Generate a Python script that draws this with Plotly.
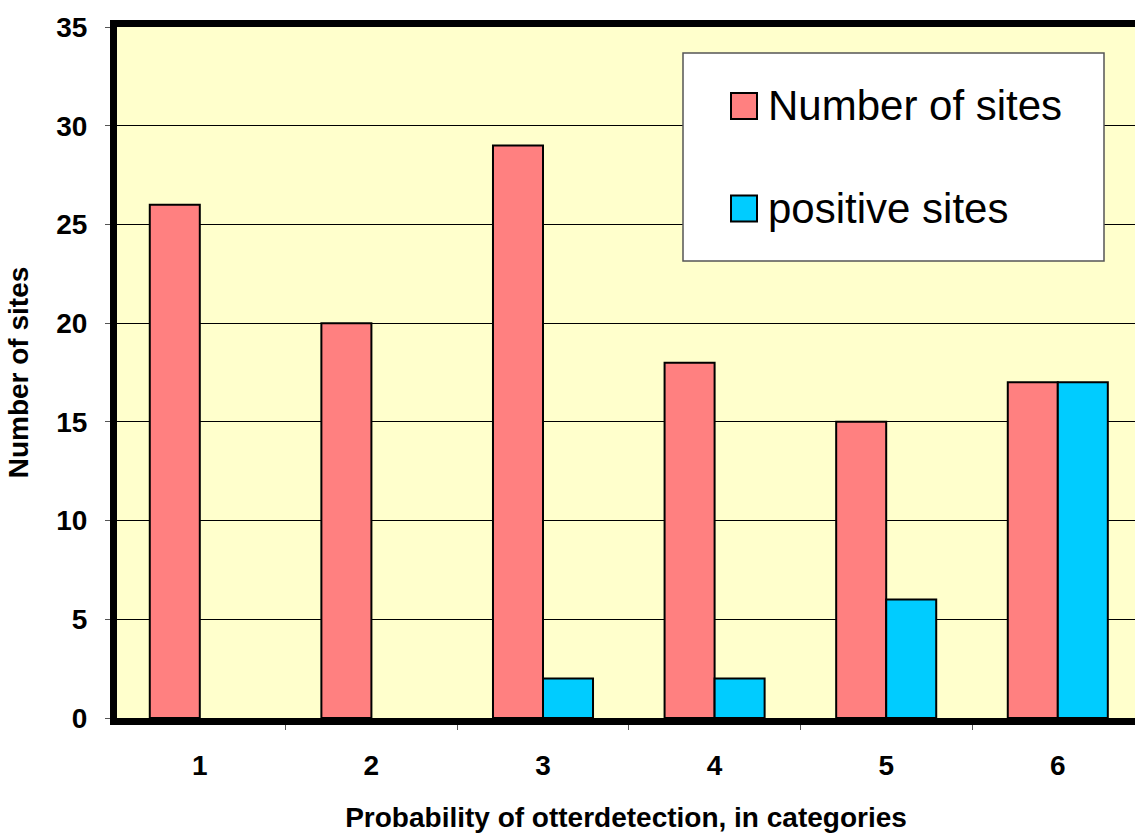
import plotly.graph_objects as go

categories = ["1", "2", "3", "4", "5", "6"]
number_of_sites = [26, 20, 29, 18, 15, 17]
positive_sites = [0, 0, 2, 2, 6, 17]
y_ticks = [0, 5, 10, 15, 20, 25, 30, 35]
series_names = ["Number of sites", "positive sites"]
series_colors = ["#FF8080", "#00CCFF"]

FONT = "Arial, Liberation Sans, sans-serif"
W, H = 1135, 834
L, R, T, B = 117, 0, 27, 116
PW, PH = W - L - R, H - T - B


def px(x):
    return (x - L) / PW


def py(y):
    return (H - B - y) / PH


fig = go.Figure()
for name, vals, col in zip(series_names, [number_of_sites, positive_sites], series_colors):
    fig.add_trace(go.Bar(
        x=categories, y=vals, name=name,
        marker=dict(color=col, line=dict(color="black",
                                         width=[0 if v == 0 else 2 for v in vals])),
        showlegend=False,
    ))

# Legend drawn with large swatches, as in the original
shapes = [dict(type="rect", xref="paper", yref="paper",
               x0=px(683), x1=px(1104), y0=py(261), y1=py(53),
               fillcolor="white", line=dict(color="#555555", width=1.5), layer="above")]
annotations = []
for i, (name, col) in enumerate(zip(series_names, series_colors)):
    yc = [106, 208.5][i]
    shapes.append(dict(type="rect", xref="paper", yref="paper",
                       x0=px(731), x1=px(757), y0=py(yc + 13), y1=py(yc - 13),
                       fillcolor=col, line=dict(color="black", width=2), layer="above"))
    annotations.append(dict(xref="paper", yref="paper", x=px(766),
                            y=py(yc), text=name, showarrow=False,
                            xanchor="left", yanchor="middle",
                            font=dict(family=FONT, size=42, color="black")))

# category centres: first at x=199.8 px, spacing 171.6 px
cat_w = 171.6
r0 = -(199.8 - L) / cat_w
r1 = r0 + PW / cat_w

fig.update_layout(
    width=W, height=H,
    margin=dict(l=L, r=R, t=T, b=B),
    paper_bgcolor="white",
    plot_bgcolor="#FFFFCC",
    barmode="group",
    bargap=0.417,
    bargroupgap=0,
    font=dict(family=FONT, color="black"),
    shapes=shapes,
    annotations=annotations,
    xaxis=dict(
        type="category",
        range=[r0, r1],
        showline=True, linecolor="black", linewidth=7, mirror=True,
        ticks="outside", tickson="boundaries", ticklen=5, tickcolor="#555555", tickwidth=1,
        tickfont=dict(family=FONT, size=28, color="black", weight="bold"),
        ticklabelstandoff=16,
        showgrid=False,
        title=dict(text="Probability of otterdetection, in categories",
                   font=dict(family=FONT, size=28, color="black", weight="bold"),
                   standoff=30),
    ),
    yaxis=dict(
        range=[0, 35],
        tickvals=y_ticks,
        showline=True, linecolor="black", linewidth=7, mirror=False,
        ticks="outside", ticklen=5, tickcolor="#555555", tickwidth=1,
        tickfont=dict(family=FONT, size=28, color="black", weight="bold"),
        ticklabelstandoff=12,
        showgrid=True, gridcolor="black", gridwidth=1,
        zeroline=False,
        title=dict(text="Number of sites",
                   font=dict(family=FONT, size=28, color="black", weight="bold"),
                   standoff=22),
    ),
)

fig.write_html("out.html",
               config={"displayModeBar": False},
               post_script="document.body.style.margin='0px';document.body.style.overflow='hidden';")
